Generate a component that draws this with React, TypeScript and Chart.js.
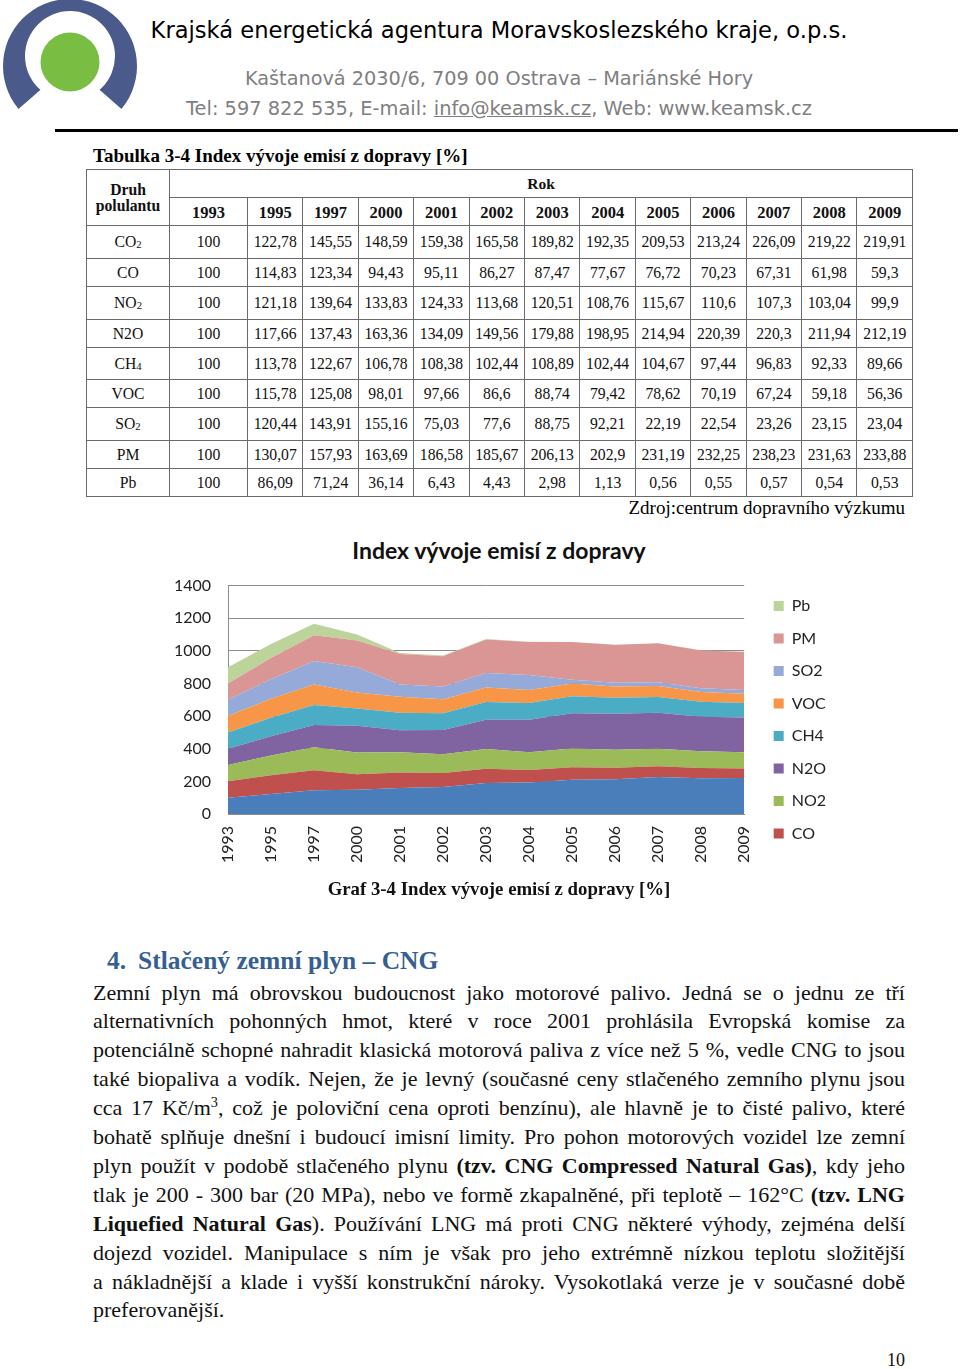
import React, { useEffect, useRef } from 'react';
import { Chart, registerables } from 'chart.js';

Chart.register(...registerables);

// ---------- data ----------
const years = ['1993', '1995', '1997', '2000', '2001', '2002', '2003', '2004', '2005', '2006', '2007', '2008', '2009'];
const seriesNames = ['CO2', 'CO', 'NO2', 'N2O', 'CH4', 'VOC', 'SO2', 'PM', 'Pb'];
const co2 = [100, 122.78, 145.55, 148.59, 159.38, 165.58, 189.82, 192.35, 209.53, 213.24, 226.09, 219.22, 219.91];
const co = [100, 114.83, 123.34, 94.43, 95.11, 86.27, 87.47, 77.67, 76.72, 70.23, 67.31, 61.98, 59.3];
const no2 = [100, 121.18, 139.64, 133.83, 124.33, 113.68, 120.51, 108.76, 115.67, 110.6, 107.3, 103.04, 99.9];
const n2o = [100, 117.66, 137.43, 163.36, 134.09, 149.56, 179.88, 198.95, 214.94, 220.39, 220.3, 211.94, 212.19];
const ch4 = [100, 113.78, 122.67, 106.78, 108.38, 102.44, 108.89, 102.44, 104.67, 97.44, 96.83, 92.33, 89.66];
const voc = [100, 115.78, 125.08, 98.01, 97.66, 86.6, 88.74, 79.42, 78.62, 70.19, 67.24, 59.18, 56.36];
const so2 = [100, 120.44, 143.91, 155.16, 75.03, 77.6, 88.75, 92.21, 22.19, 22.54, 23.26, 23.15, 23.04];
const pm = [100, 130.07, 157.93, 163.69, 186.58, 185.67, 206.13, 202.9, 231.19, 232.25, 238.23, 231.63, 233.88];
const pb = [100, 86.09, 71.24, 36.14, 6.43, 4.43, 2.98, 1.13, 0.56, 0.55, 0.57, 0.54, 0.53];
const seriesValues = [co2, co, no2, n2o, ch4, voc, so2, pm, pb];
const seriesColors = ['#4A7EBB', '#C0504D', '#9BBB59', '#8064A2', '#4BACC6', '#F79646', '#95AAD8', '#D99694', '#BCD49A'];
const yTicks = { min: 0, max: 1400, step: 200 };

const chartTitle = 'Index vývoje emisí z dopravy';
const tableCaption = 'Tabulka 3-4 Index vývoje emisí z dopravy [%]';
const figureCaption = 'Graf 3-4 Index vývoje emisí z dopravy [%]';
const sourceNote = 'Zdroj:centrum dopravního výzkumu';

// ---------- layout constants ----------
const CANVAS_LEFT = 140;
const CANVAS_TOP = 559;
const CANVAS_W = 696;
const CANVAS_H = 320;
const PLOT_LEFT = 228;
const PLOT_BOTTOM = 814;

const serif = '"Liberation Serif", "Times New Roman", serif';
const sans = '"DejaVu Sans", sans-serif';

function AreaChart() {
  const ref = useRef<HTMLCanvasElement | null>(null);
  useEffect(() => {
    if (!ref.current) return;
    const tickFont = { family: 'Lato', size: 16 };
    const chart = new Chart(ref.current, {
      type: 'line',
      data: {
        labels: years,
        datasets: seriesNames.map((name, i) => ({
          label: name,
          data: seriesValues[i],
          backgroundColor: seriesColors[i],
          borderColor: seriesColors[i],
          borderWidth: 0,
          pointRadius: 0,
          tension: 0,
          fill: i === 0 ? 'origin' : '-1',
        })),
      },
      options: {
        animation: false,
        responsive: false,
        maintainAspectRatio: false,
        layout: { padding: 0 },
        plugins: {
          tooltip: { enabled: false },
          title: { display: false },
          legend: {
            position: 'right',
            align: 'start',
            reverse: true,
            title: { display: true, text: '', font: { size: 1 }, padding: { top: 21.3, bottom: 0 } },
            labels: {
              boxWidth: 10,
              boxHeight: 10,
              padding: 16.5,
              font: tickFont,
              color: '#222',
              filter: (item: any) => item.text !== 'CO2',
            },
          },
        },
        scales: {
          x: {
            type: 'category',
            offset: false,
            grid: { display: false, drawTicks: false },
            border: { display: true, color: '#8c8c8c' },
            ticks: { autoSkip: false, minRotation: 90, maxRotation: 90, padding: 12, font: tickFont, color: '#222' },
            afterFit: (s: any) => { s.height = CANVAS_TOP + CANVAS_H - PLOT_BOTTOM; },
          },
          y: {
            stacked: true,
            min: yTicks.min,
            max: yTicks.max,
            ticks: { stepSize: yTicks.step, padding: 17, font: tickFont, color: '#222', callback: (v: any) => String(v) },
            grid: { color: '#8c8c8c', drawTicks: false },
            border: { display: true, color: '#8c8c8c' },
            afterFit: (s: any) => { s.width = PLOT_LEFT - CANVAS_LEFT; },
          },
          yR: {
            position: 'right',
            display: true,
            grid: { display: false, drawTicks: false },
            border: { display: false },
            ticks: { display: false },
            afterFit: (s: any) => { s.width = 13; },
          },
        },
      } as any,
    });
    return () => chart.destroy();
  }, []);
  return (
    <canvas
      ref={ref}
      width={CANVAS_W}
      height={CANVAS_H}
      style={{ position: 'absolute', left: CANVAS_LEFT, top: CANVAS_TOP, width: CANVAS_W, height: CANVAS_H }}
    />
  );
}

const sub = (s: string) => <span style={{ fontSize: '0.68em', verticalAlign: '-0.12em' }}>{s}</span>;
function tableName(name: string) {
  if (name === 'N2O') return name;
  const m = name.match(/^([A-Za-z]+)(\d)$/);
  if (m) return <>{m[1]}{sub(m[2])}</>;
  return name;
}
const fmt = (v: number) => String(v).replace('.', ',');

const rowHeights = [33, 28, 33, 28, 32, 28, 33, 28, 28];

function DataTable() {
  const border = '1px solid #6a6a6a';
  const cell: React.CSSProperties = { border, padding: 0, textAlign: 'center', verticalAlign: 'middle' };
  return (
    <table
      style={{
        position: 'absolute', left: 86, top: 169, width: 826, borderCollapse: 'collapse', tableLayout: 'fixed',
        fontFamily: serif, fontSize: 15.7, color: '#111',
      }}
    >
      <colgroup>
        <col style={{ width: 83 }} />
        <col style={{ width: 78 }} />
        {years.slice(1).map((y) => <col key={y} style={{ width: 665 / 12 }} />)}
      </colgroup>
      <tbody>
        <tr style={{ height: 28 }}>
          <td rowSpan={2} style={{ ...cell, fontWeight: 'bold', lineHeight: '16px', fontSize: 15.7 }}>Druh<br />polulantu</td>
          <td colSpan={13} style={{ ...cell, fontWeight: 'bold', fontSize: 15.5 }}>Rok</td>
        </tr>
        <tr style={{ height: 28 }}>
          {years.map((y) => <td key={y} style={{ ...cell, fontWeight: 'bold', fontSize: 16.5, paddingTop: 2 }}>{y}</td>)}
        </tr>
        {seriesNames.map((name, r) => (
          <tr key={name} style={{ height: rowHeights[r] }}>
            <td style={cell}>{tableName(name)}</td>
            {seriesValues[r].map((v, c) => <td key={c} style={cell}>{fmt(v)}</td>)}
          </tr>
        ))}
      </tbody>
    </table>
  );
}

const paragraphLines: React.ReactNode[] = [
  'Zemní plyn má obrovskou budoucnost jako motorové palivo. Jedná se o\u00a0jednu ze tří',
  'alternativních pohonných hmot, které v\u00a0roce 2001 prohlásila Evropská komise za',
  'potenciálně schopné nahradit klasická motorová paliva z více než 5 %, vedle CNG to jsou',
  'také biopaliva a vodík. Nejen, že je levný (současné ceny stlačeného zemního plynu jsou',
  <>cca 17 Kč/m<sup style={{ fontSize: '0.65em', lineHeight: 0 }}>3</sup>, což je poloviční cena oproti benzínu), ale hlavně je to čisté palivo, které</>,
  'bohatě splňuje dnešní i budoucí imisní limity. Pro pohon motorových vozidel lze zemní',
  <>plyn použít v podobě stlačeného plynu <b>(tzv. CNG Compressed Natural Gas)</b>, kdy jeho</>,
  <>tlak je 200 - 300 bar (20 MPa), nebo ve formě zkapalněné, při teplotě – 162°C <b>(tzv. LNG</b></>,
  <><b>Liquefied Natural Gas</b>). Používání LNG má proti CNG některé výhody, zejména delší</>,
  'dojezd vozidel. Manipulace s\u00a0ním je však pro jeho extrémně nízkou teplotu složitější',
  'a nákladnější a klade i vyšší konstrukční nároky.  Vysokotlaká verze je v současné době',
  'preferovanější.',
];

function Logo() {
  return (
    <svg width={145} height={125} style={{ position: 'absolute', left: 0, top: 0 }}>
      <path
        d="M3,66 a67,67 0 1,0 134,0 a67,67 0 1,0 -134,0 Z M25,56 a45,45 0 1,0 90,0 a45,45 0 1,0 -90,0 Z"
        fill="#4A5A8B"
        fillRule="evenodd"
      />
      <polygon points="70,64 -25,147 165,147" fill="#fff" />
      <circle cx={70} cy={62} r={29.5} fill="#79BD42" />
    </svg>
  );
}

export default function App() {
  const abs: React.CSSProperties = { position: 'absolute', whiteSpace: 'nowrap' };
  return (
    <div style={{ position: 'absolute', left: 0, top: 0, width: 960, height: 1369, overflow: 'hidden', background: '#fff' }}>
      <Logo />
      <div style={{ ...abs, left: 99, width: 800, top: 15, lineHeight: '30px', textAlign: 'center', fontFamily: sans, fontSize: 22.6, color: '#000' }}>
        Krajská energetická agentura Moravskoslezského kraje, o.p.s.
      </div>
      <div style={{ ...abs, left: 99, width: 800, top: 66, lineHeight: '26px', textAlign: 'center', fontFamily: sans, fontSize: 19.3, color: '#7f7f7f' }}>
        Kaštanová 2030/6, 709 00 Ostrava – Mariánské Hory
      </div>
      <div style={{ ...abs, left: 99, width: 800, top: 96, lineHeight: '26px', textAlign: 'center', fontFamily: sans, fontSize: 19.4, color: '#7f7f7f' }}>
        Tel: 597 822 535, E-mail: <span style={{ textDecoration: 'underline' }}>info@keamsk.cz</span>, Web: www.keamsk.cz
      </div>
      <div style={{ position: 'absolute', left: 55, top: 129, width: 903, height: 3, background: '#000' }} />

      <div style={{ ...abs, left: 93, top: 144, lineHeight: '24px', fontFamily: serif, fontSize: 19, fontWeight: 'bold', color: '#000' }}>
        {tableCaption}
      </div>
      <DataTable />
      <div style={{ ...abs, left: 505, width: 400, top: 496, lineHeight: '24px', textAlign: 'right', fontFamily: serif, fontSize: 19, color: '#000' }}>
        {sourceNote}
      </div>

      <div style={{ ...abs, left: 299, width: 400, top: 537, lineHeight: '26px', textAlign: 'center', fontFamily: 'Lato', fontSize: 23, fontWeight: 'bold', color: '#111' }}>
        {chartTitle}
      </div>
      <AreaChart />
      <div style={{ ...abs, left: 249, width: 500, top: 877, lineHeight: '24px', textAlign: 'center', fontFamily: serif, fontSize: 18.8, fontWeight: 'bold', color: '#111' }}>
        {figureCaption}
      </div>

      <div style={{ ...abs, left: 107, top: 946, lineHeight: '30px', fontFamily: serif, fontSize: 25.5, fontWeight: 'bold', color: '#365F91' }}>4.</div>
      <div style={{ ...abs, left: 138, top: 946, lineHeight: '30px', fontFamily: serif, fontSize: 25.5, fontWeight: 'bold', color: '#365F91' }}>
        Stlačený zemní plyn – CNG
      </div>

      {paragraphLines.map((line, i) => (
        <div
          key={i}
          style={{
            position: 'absolute', left: 93, width: 812, top: 993 + i * 28.9 - 14.45, height: 28.9, lineHeight: '28.9px',
            fontFamily: serif, fontSize: 22, color: '#111',
            textAlign: i === paragraphLines.length - 1 ? 'left' : 'justify',
            textAlignLast: i === paragraphLines.length - 1 ? 'left' : 'justify',
          } as React.CSSProperties}
        >
          {line}
        </div>
      ))}

      <div style={{ ...abs, left: 805, width: 100, top: 1348, lineHeight: '24px', textAlign: 'right', fontFamily: serif, fontSize: 18, color: '#111' }}>
        10
      </div>
    </div>
  );
}
